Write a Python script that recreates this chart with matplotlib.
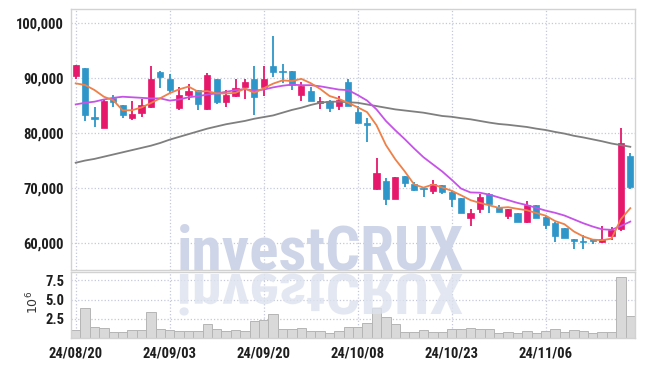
import numpy as np
import pandas as pd
import matplotlib
matplotlib.use("Agg")
import matplotlib.pyplot as plt
from matplotlib.ticker import FuncFormatter
from matplotlib.textpath import TextPath
from matplotlib.patches import PathPatch
from matplotlib.font_manager import FontProperties, fontManager
from matplotlib.transforms import Affine2D

# daily candles, 2024-08-20 .. 2024-11-19 (60 sessions)
opens = [90400, 91800, 82800, 81000, 86300, 85100, 82800, 83700, 84700, 91100,
         89900, 84600, 86900, 87800, 84400, 89900, 85700, 86700, 88400, 89900,
         88400, 92200, 91200, 91300, 86900, 87600, 85400, 85900, 84900, 89300,
         83900, 81700, 69800, 71300, 68000, 72100, 70700, 69900, 69500, 70500,
         69300, 68100, 64600, 66200, 69000, 66600, 65000, 65400, 63900, 66900,
         64800, 63700, 62800, 60500, 60200, 60500, 60200, 61300, 62500, 75800]
highs = [92400, 91800, 84700, 86000, 86900, 85100, 85900, 86100, 92200, 91200,
         90800, 88300, 88900, 87900, 91000, 89900, 87800, 89800, 89800, 92200,
         92200, 97600, 92500, 91300, 89300, 88300, 86600, 86000, 86800, 89900,
         84900, 82800, 75400, 71800, 72000, 72100, 71100, 70200, 71400, 70600,
         69400, 68100, 66100, 68900, 69100, 66900, 66200, 65500, 67700, 67000,
         64900, 63800, 62800, 60700, 61400, 60700, 63100, 62900, 80900, 76400]
lows = [89800, 82200, 81100, 80900, 84700, 82700, 82400, 82900, 84500, 88100,
        87300, 84200, 86000, 84200, 84200, 85300, 84800, 86600, 86100, 83200,
        86700, 90200, 89100, 87900, 85900, 85900, 84300, 83900, 84200, 84900,
        81800, 78300, 69700, 67000, 68000, 70100, 69500, 68400, 69000, 69000,
        66600, 65400, 63100, 65400, 65500, 65600, 64300, 63800, 63600, 64500,
        62500, 60200, 60900, 58900, 59000, 59800, 60000, 60500, 62200, 69800]
closes = [92400, 83300, 82600, 85800, 85700, 83200, 83450, 85100, 89800, 90100,
          87800, 86900, 87600, 85300, 90500, 85700, 86900, 88100, 89300, 86600,
          89800, 91100, 91050, 88700, 88600, 85900, 85900, 84600, 86000, 85000,
          81900, 81500, 72700, 68000, 72000, 71000, 69600, 69800, 70800, 69300,
          68000, 65500, 65400, 68300, 67100, 65700, 66100, 63900, 67000, 64600,
          63300, 61200, 61000, 60400, 60100, 60400, 60700, 62400, 78100, 70100]
prev_closes = [84800, 87150, 91900, 88900]  # sessions before the window (for MA5)

volume = [0.99, 3.85, 1.43, 1.25, 0.77, 0.77, 0.99, 0.99, 3.37, 1.12,
          0.99, 0.86, 0.86, 0.86, 1.77, 1.12, 0.90, 0.99, 0.86, 2.20,
          2.29, 3.07, 1.12, 1.12, 1.25, 0.86, 0.86, 0.64, 0.86, 1.38,
          1.38, 1.90, 3.85, 2.72, 1.77, 0.73, 0.73, 0.99, 0.73, 0.73,
          1.12, 1.12, 1.25, 1.12, 1.12, 0.64, 0.73, 0.60, 0.86, 0.60,
          0.86, 1.12, 0.73, 0.99, 0.86, 0.60, 0.73, 0.73, 7.93, 2.85]

ma20 = [85200, 85500, 85700, 86100, 86400, 86600, 86500, 86400, 86300, 86300,
        85900, 86100, 86500, 86700, 87000, 87200, 87500, 87800, 88000, 87700,
        87900, 88300, 88600, 88800, 88700, 88700, 88500, 88200, 87900, 87800,
        86900, 85900, 84300, 82200, 80500, 78900, 77200, 75600, 74300, 73000,
        71500, 69900, 69200, 69150, 68800, 68300, 67800, 67300, 66900, 66400,
        65900, 65500, 65000, 64300, 63600, 63000, 62500, 62400, 63100, 63900]
ma60 = [74600, 75000, 75300, 75700, 76100, 76500, 76900, 77300, 77700, 78200,
        78800, 79300, 79800, 80300, 80800, 81200, 81600, 81900, 82200, 82600,
        82900, 83200, 83700, 84200, 84600, 85100, 85500, 85700, 85700, 85600,
        85500, 85200, 84900, 84600, 84300, 84100, 83900, 83700, 83400, 83100,
        82950, 82700, 82500, 82200, 81900, 81650, 81500, 81300, 81100, 80800,
        80550, 80200, 79900, 79500, 79200, 78850, 78500, 78100, 77800, 77500]

tick_labels = ["24/08/20", "24/09/03", "24/09/20", "24/10/08", "24/10/23", "24/11/06"]

UP = "#e6186b"
DOWN = "#2e96c8"
GRID = "#c4c8da"
SPINE = "#d2d2d2"

# pick the narrowest installed sans family
installed = {f.name for f in fontManager.ttflist}
FONT = next((f for f in ["Liberation Sans Narrow", "DejaVu Sans Condensed",
                         "Roboto Condensed", "Roboto"] if f in installed), "DejaVu Sans")

df = pd.DataFrame({"open": opens, "high": highs, "low": lows, "close": closes,
                   "vol": volume, "ma20": ma20, "ma60": ma60})
ma5 = pd.Series(prev_closes + closes).rolling(5).mean().iloc[len(prev_closes):].values
x = np.arange(len(df))

fig = plt.figure(figsize=(6.45, 3.66), dpi=100)
ax = fig.add_axes([71 / 645, 96 / 366, 564 / 645, 261 / 366])
axv = fig.add_axes([71 / 645, 28 / 366, 564 / 645, 66 / 366], sharex=ax)

# candles
up = df["close"] >= df["open"]
colors = np.where(up, UP, DOWN)
body_lo = np.minimum(df["open"], df["close"])
body_h = np.maximum((df["close"] - df["open"]).abs(), 250)
ax.vlines(x, df["low"], df["high"], colors=colors, linewidth=1.3, zorder=2)
ax.bar(x, body_h, bottom=body_lo, width=0.66, color=colors, edgecolor=colors,
       linewidth=0.5, zorder=3)

# moving averages
ax.plot(x, df["ma60"], color="#7f7f7f", linewidth=1.3, zorder=4)
ax.plot(x, df["ma20"], color="#c653e8", linewidth=1.3, zorder=4)
ax.plot(x, ma5, color="#ef8048", linewidth=1.3, zorder=4)

ax.set_xlim(-0.5, len(df) - 0.5)
ax.set_ylim(55100, 102550)
ax.set_yticks([60000, 70000, 80000, 90000, 100000])
ax.yaxis.set_major_formatter(FuncFormatter(lambda v, p: f"{v:,.0f}"))

# volume
axv.bar(x, df["vol"], width=1.0, color="#d9d9d9", edgecolor="#b5b5b5",
        linewidth=0.7, zorder=2)
axv.set_ylim(0, 8.6)
axv.set_yticks([2.5, 5.0, 7.5])
axv.set_yticklabels(["2.5", "5.0", "7.5"])
axv.set_xticks(np.arange(0, len(df), 10))
axv.set_xticklabels(tick_labels)

for a in (ax, axv):
    a.grid(True, color=GRID, linestyle=":", linewidth=0.9, zorder=0)
    a.set_axisbelow(True)
    a.tick_params(length=0, pad=5, labelsize=10.5)
    for s in a.spines.values():
        s.set_color(SPINE)
        s.set_linewidth(1.0)
    for lab in a.get_yticklabels() + a.get_xticklabels():
        lab.set_family(FONT)
        lab.set_fontweight("bold")
        lab.set_color("#1e1e1e")
ax.tick_params(labelbottom=False)
axv.tick_params(axis="x", pad=6)

fig.text(33 / 645, 1 - 302 / 366, r"$10^{6}$", rotation=90, ha="center",
         va="center", fontsize=9, color="#333333")

# watermark + reflection, scaled to ~283 px wide
wm_prop = FontProperties(family=FONT, weight=900)
tp = TextPath((0, 0), "investCRUX", size=100, prop=wm_prop)
ext = tp.get_extents()
wm_px = 100 * 283 / ext.width
fig.text(321 / 645, 96 / 366, "investCRUX", fontproperties=wm_prop, fontsize=wm_px * 0.72,
         color="#cfd5e8", ha="center", va="baseline", zorder=10)
tr = (Affine2D().translate(-(ext.x0 + ext.x1) / 2, 0)
      .scale(wm_px / 100, -wm_px / 100 * 0.92).translate(321, 92))
fig.add_artist(PathPatch(tp, transform=tr, facecolor="#dde2ee", edgecolor="none",
                         alpha=0.8, zorder=10))

fig.savefig("out.png", dpi=100)
